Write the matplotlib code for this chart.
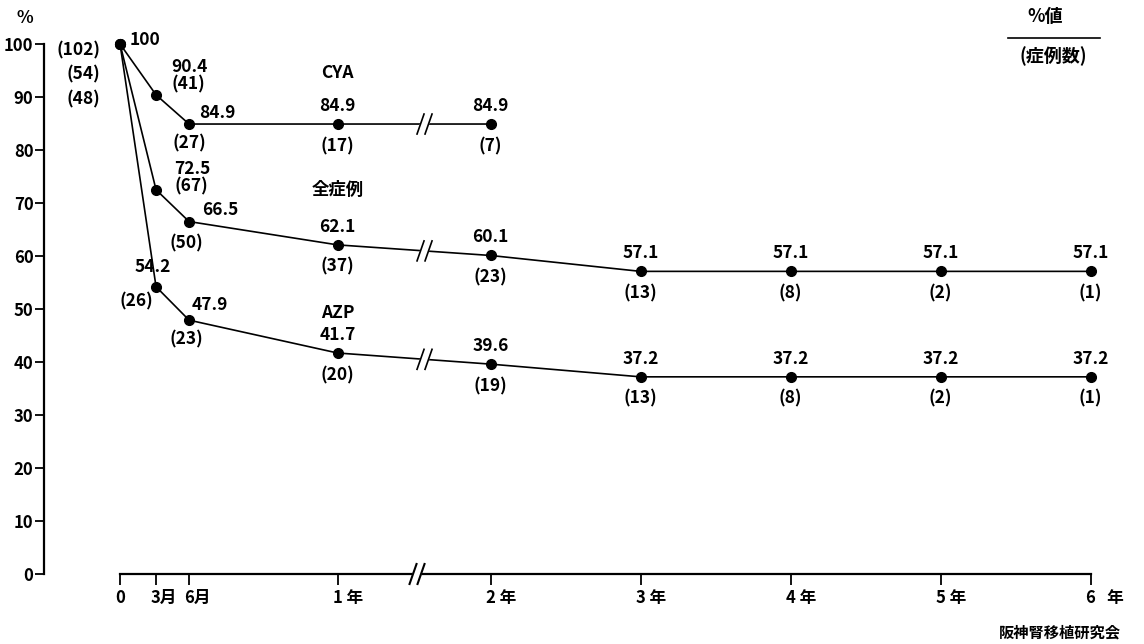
import matplotlib
matplotlib.use("Agg")
import matplotlib.pyplot as plt
from matplotlib.lines import Line2D
from matplotlib.patches import Polygon
from matplotlib.transforms import IdentityTransform, ScaledTranslation

plt.rcParams['font.family'] = ['Noto Sans CJK JP', 'DejaVu Sans']
plt.rcParams['font.weight'] = 'bold'

# follow-up time points (x position on the broken time scale)
time_labels = ['0', '3月', '6月', '1 年', '2 年', '3 年', '4 年', '5 年', '6   年']
time_pos = [0, 0.24, 0.46, 1.45, 2.47, 3.47, 4.47, 5.47, 6.47]

# graft survival % and number of cases
cya_pct = [100, 90.4, 84.9, 84.9, 84.9]
cya_n = [54, 41, 27, 17, 7]
all_pct = [100, 72.5, 66.5, 62.1, 60.1, 57.1, 57.1, 57.1, 57.1]
all_n = [102, 67, 50, 37, 23, 13, 8, 2, 1]
azp_pct = [100, 54.2, 47.9, 41.7, 39.6, 37.2, 37.2, 37.2, 37.2]
azp_n = [48, 26, 23, 20, 19, 13, 8, 2, 1]

FS = 12.5

fig = plt.figure(figsize=(11.44, 6.44), dpi=100)
ax = fig.add_axes([44 / 1144, 70 / 644, 1066 / 1144, 530 / 644])
ax.set_xlim(-0.507, 6.6)
ax.set_ylim(0, 100)

for s in ['top', 'right']:
    ax.spines[s].set_visible(False)
ax.spines['left'].set_linewidth(1.6)
ax.spines['bottom'].set_linewidth(1.6)
ax.spines['bottom'].set_bounds(0, time_pos[-1])

ax.set_yticks(range(0, 101, 10))
ax.tick_params(axis='y', direction='out', length=6.5, width=1.3, pad=1, labelsize=12)
ax.set_xticks(time_pos)
ax.set_xticklabels(time_labels)
ax.tick_params(axis='x', direction='out', length=8, width=1.3, pad=3, labelsize=12)
for lab in ax.get_xticklabels():
    lab.set_horizontalalignment('left')
    lab.set_transform(lab.get_transform() + ScaledTranslation(-5 / 100, 0, fig.dpi_scale_trans))

line_kw = dict(color='black', lw=1.2, marker='o', ms=7, clip_on=False, zorder=3)
ax.plot(time_pos[:len(cya_pct)], cya_pct, **line_kw)
ax.plot(time_pos[:len(all_pct)], all_pct, **line_kw)
ax.plot(time_pos[:len(azp_pct)], azp_pct, **line_kw)


def draw_break(x, y, lw=1.2):
    X, Y = ax.transData.transform((x, y))
    h, run, gap = 10, 3.5, 4
    left = [(X - gap - run, Y - h), (X - gap + run, Y + h)]
    right = [(X + gap - run, Y - h), (X + gap + run, Y + h)]
    poly = Polygon([left[0], left[1], right[1], right[0]], closed=True,
                   transform=IdentityTransform(), color='white', zorder=5)
    fig.add_artist(poly)
    for seg in (left, right):
        fig.add_artist(Line2D([seg[0][0], seg[1][0]], [seg[0][1], seg[1][1]],
                              transform=IdentityTransform(), color='black', lw=lw, zorder=6))


def interp(xs, ys, x):
    for i in range(len(xs) - 1):
        if xs[i] <= x <= xs[i + 1]:
            t = (x - xs[i]) / (xs[i + 1] - xs[i])
            return ys[i] + t * (ys[i + 1] - ys[i])


brk = 2.03
for ys in (cya_pct, all_pct, azp_pct):
    draw_break(brk, interp(time_pos, ys, brk))
draw_break(1.98, 0, lw=1.5)


def label(x, y, text, dx, dy, ha='center'):
    ax.annotate(text, (x, y), xytext=(dx, dy), textcoords='offset pixels',
                ha=ha, va='center', fontsize=FS, annotation_clip=False, zorder=7)


# start point
label(0, 100, '100', 10, 4, ha='left')
label(0, 100, f'({all_n[0]})', -20, -6, ha='right')
label(0, 100, f'({cya_n[0]})', -20, -30, ha='right')
label(0, 100, f'({azp_n[0]})', -20, -55, ha='right')

# special placement for the first months: (value dx, dy, ha), (count dx, dy, ha)
early = {
    'cya': {1: ((15, 28, 'left'), (15, 10, 'left')), 2: ((10, 11, 'left'), (0, -19, 'center'))},
    'all': {1: ((18, 21, 'left'), (18, 3, 'left')), 2: ((13, 12, 'left'), (-3, -22, 'center'))},
    'azp': {1: ((-3, 20, 'center'), (-20, -15, 'center')), 2: ((3, 15, 'left'), (-3, -19, 'center'))},
}

for key, pct, n in (('cya', cya_pct, cya_n), ('all', all_pct, all_n), ('azp', azp_pct, azp_n)):
    for i in range(1, len(pct)):
        if i in early[key]:
            (vdx, vdy, vha), (cdx, cdy, cha) = early[key][i]
        else:
            vdx, vdy, vha = 0, 18, 'center'
            cdx, cdy, cha = 0, -22, 'center'
        label(time_pos[i], pct[i], f'{pct[i]}', vdx, vdy, vha)
        label(time_pos[i], pct[i], f'({n[i]})', cdx, cdy, cha)

# series names
ax.text(time_pos[3], 94.5, 'CYA', ha='center', va='center', fontsize=FS)
ax.text(time_pos[3], 72.5, '全症例', ha='center', va='center', fontsize=FS)
ax.text(time_pos[3], 49.3, 'AZP', ha='center', va='center', fontsize=FS)

# corner texts
fig.text(25 / 1144, 1 - 18 / 644, '%', ha='center', va='center', fontsize=FS)
fig.text(1045 / 1144, 1 - 17 / 644, '%値', ha='center', va='center', fontsize=13)
fig.add_artist(Line2D([1008 / 1144, 1100 / 1144], [1 - 38 / 644, 1 - 38 / 644],
                      transform=fig.transFigure, color='black', lw=1.2))
fig.text(1053 / 1144, 1 - 56 / 644, '(症例数)', ha='center', va='center', fontsize=13)
fig.text(1060 / 1144, 1 - 632 / 644, '阪神腎移植研究会', ha='center', va='center', fontsize=11)

fig.savefig('out.png', dpi=100)
